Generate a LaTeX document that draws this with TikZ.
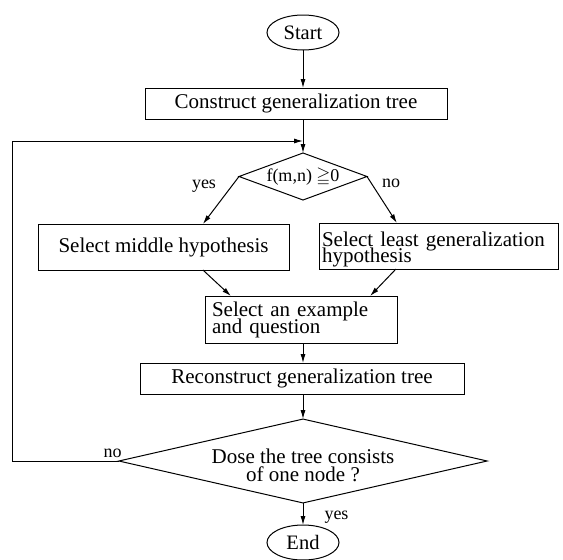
\documentclass[tikz,border=0pt]{standalone}
\usepackage{amssymb}
\usepackage{fontspec}
\setmainfont{Liberation Serif}
\usetikzlibrary{shapes.geometric,arrows.meta,calc}
\newcommand\tightlines{\lineskiplimit=-100pt\relax}
\begin{document}
\begin{tikzpicture}[x=1pt,y=-1pt,
  every node/.style={outer sep=0pt},
  base/.style={draw,line width=1pt,inner sep=0pt},
  term/.style={base,ellipse,minimum width=72pt,minimum height=35pt,font=\fontsize{20.5}{20}\selectfont},
  proc/.style={base,rectangle,font={\fontsize{21}{17}\selectfont\tightlines}},
  cond/.style={base,diamond},
  lbl/.style={inner sep=0pt,anchor=base,font=\fontsize{18}{18}\selectfont},
  arr/.style={line width=1pt,-{Latex[length=9pt,width=5pt]}}
]
\useasboundingbox (0,0) rectangle (563,560);

\node[term] (start) at (303,32.5) {Start};
\node[proc,minimum width=302pt,minimum height=31pt] (cons) at (296,103.5) {Construct generalization tree};
\node[cond,minimum width=128pt,minimum height=47pt,aspect=2.72,font=\fontsize{18}{18}\selectfont] (d1) at (303,176.5) {f(m,n) $\geqq$0};
\node[proc,minimum width=251pt,minimum height=46pt] (mid) at (163.5,247) {Select middle hypothesis};
\node[proc,minimum height=46pt,inner xsep=3pt,text width=233pt,align=left,font={\fontsize{21}{16}\selectfont\tightlines}] (least) at (438.5,246) {\rule{0pt}{22pt}Select least generalization\\hypothesis};
\node[proc,minimum height=47pt,inner xsep=7pt,text width=178pt,align=left] (ex) at (301,319.5) {Select an example\\and question};
\node[proc,minimum width=324pt,minimum height=31pt] (recon) at (302,378.5) {Reconstruct generalization tree};
\node[cond,minimum width=360pt,minimum height=82pt,aspect=4.39,align=center,font={\fontsize{21}{18}\selectfont\tightlines}] (d2) at (303,461) {\rule{0pt}{24pt}Dose the tree consists\\of one node ?};
\node[term] (endn) at (303,542.5) {End};

\node[lbl] (y1) at (204,188) {yes};
\node[lbl] (n1) at (391,187) {no};
\node[lbl] (n2) at (112.5,457) {no};
\node[lbl] (y2) at (336.5,519) {yes};

\coordinate (join) at (303,141);
\coordinate (loopc) at (12,461);

\draw[arr] (start.south) -- (start.south |- cons.north);
\draw[arr] (d1.north |- cons.south) -- (d1.north);
\draw[arr] (d2.west) -- (loopc) |- (join);
\draw[arr] (d1.west) -- ($(mid.north west)!0.657!(mid.north east)$);
\draw[arr] (d1.east) -- ($(least.north west)!0.326!(least.north east)$);
\draw[arr] ($(mid.south west)!0.657!(mid.south east)$) -- ($(ex.north west)!0.135!(ex.north east)$);
\draw[arr] ($(least.south west)!0.322!(least.south east)$) -- ($(ex.north west)!0.86!(ex.north east)$);
\draw[arr] (d1.north |- ex.south) -- (d1.north |- recon.north);
\draw[arr] (d1.north |- recon.south) -- (d2.north);
\draw[arr] (d2.south) -- (endn.north);
\end{tikzpicture}
\end{document}
